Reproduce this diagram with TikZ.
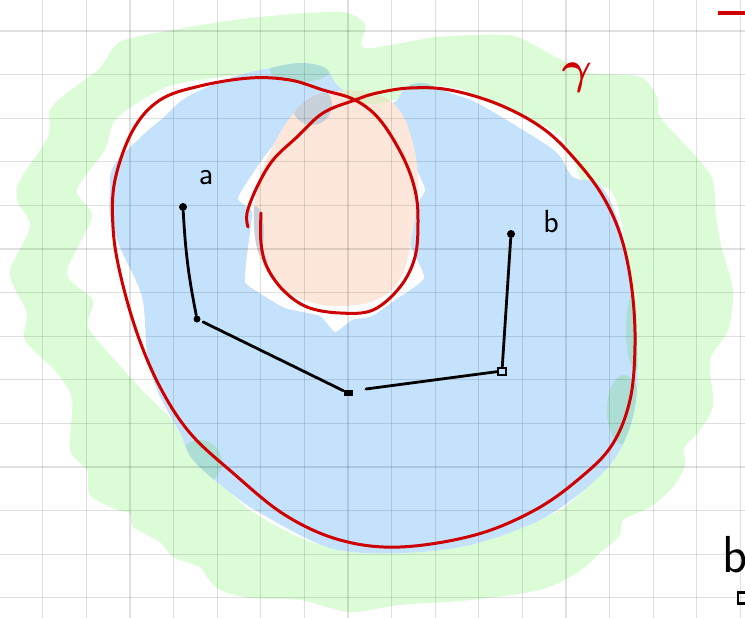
\documentclass[tikz,border=0pt]{standalone}
\usepackage{xcolor}
\usepackage{tikz}
\usetikzlibrary{calc}
\definecolor{SketchGreen}{RGB}{220,252,216}
\definecolor{SketchBlue}{RGB}{196,226,252}
\definecolor{SketchPeach}{RGB}{253,230,218}
\definecolor{SketchTeal}{RGB}{172,222,214}
\definecolor{SketchGrey}{RGB}{200,208,218}
\definecolor{SketchOlive}{RGB}{226,234,198}
\definecolor{SketchRed}{RGB}{206,0,0}
\definecolor{SketchInk}{RGB}{0,0,0}

\newcommand{\blueshape}{plot[smooth cycle, tension=0.55] coordinates {
  (110,195) (113,167) (143,135) (163,118) (187,97) (233,77) (270,68) (300,63)
  (325,68) (338,86) (362,100) (393,103) (405,88) (423,83) (450,93) (477,103)
  (523,130) (557,153) (573,177) (597,183) (613,207) (628,260) (636,320)
  (636,400) (620,450) (590,485) (540,520) (470,545) (400,553) (330,548)
  (260,513) (227,490) (193,460) (180,433) (157,390) (147,353) (142,297)
  (120,247) (110,215)}}
\newcommand{\peachshape}{plot[smooth cycle, tension=0.7] coordinates {
  (330,92) (365,92) (395,105) (412,140) (418,185) (412,235) (402,275)
  (380,298) (345,306) (310,302) (282,288) (262,262) (254,225) (258,185)
  (272,148) (292,115) (310,98)}}

\begin{document}
\begin{tikzpicture}[x=1pt, y=-1pt,
  gridline/.style={black, opacity=0.12, line width=1.2pt},
  inkline/.style={SketchInk, line width=2.8pt, line cap=round, line join=round},
  dotmark/.style={circle, fill=SketchInk, inner sep=0pt, minimum size=8pt},
  crossmark/.style={rectangle, fill=SketchInk, inner sep=0pt, minimum width=9pt, minimum height=6pt},
  boxmark/.style={rectangle, draw=SketchInk, line width=2pt, inner sep=0pt, minimum width=8pt, minimum height=7pt},
  sketchlabel/.style={font=\sffamily\fontsize{32}{34}\selectfont, inner sep=0pt},
  curvepath/.style={SketchRed, line width=3pt, line cap=round, line join=round}]
  \useasboundingbox (0,0) rectangle (745,618);
  \clip (0,0) rectangle (745,618);

  % green band, with the white gap inside it
  \fill[SketchGreen] plot[smooth cycle, tension=0.5] coordinates {
    (67,93) (100,68) (120,42) (173,30) (250,18) (340,12) (365,25) (365,48)
    (437,37) (507,35) (530,43) (567,63) (590,73) (640,77) (657,97) (660,117)
    (690,150) (712,178) (716,215) (722,250) (733,290) (728,330) (710,360)
    (713,405) (700,430) (684,448) (685,465) (673,487) (650,507) (623,520)
    (620,535) (600,553) (578,572) (540,590) (470,600) (400,605) (350,612)
    (300,600) (250,598) (220,590) (207,577) (200,567) (173,557) (160,542)
    (133,527) (130,513) (117,510) (90,495) (87,470) (70,450) (72,400)
    (57,373) (25,340) (27,313) (10,273) (30,227) (17,200) (20,180) (48,137)
    (50,110)};
  \fill[white] plot[smooth cycle, tension=0.45] coordinates {
    (117,118) (170,86) (250,74) (320,72) (345,98) (395,100) (430,86)
    (463,90) (490,103) (523,117) (557,133) (572,155) (582,180) (612,192)
    (624,240) (628,330) (620,420) (600,470) (560,510) (480,540) (400,550)
    (320,545) (250,510) (200,460) (177,425) (145,393) (115,360) (88,327)
    (93,300) (67,273) (92,217) (77,190) (105,150)};

  % blue region
  \fill[SketchBlue] \blueshape;
  \begin{scope}
    \clip \blueshape;
    \fill[SketchTeal] (300,70) ellipse (30 and 12);
    \fill[SketchTeal] (420,84) ellipse (20 and 6);
    \fill[SketchTeal] (636,330) ellipse (10 and 40);
    \fill[SketchTeal] (624,410) ellipse (17 and 35);
    \fill[SketchTeal] (200,462) ellipse (22 and 22);
  \end{scope}

  % hole with the peach region
  \fill[white] plot[smooth cycle, tension=0.3] coordinates {
    (300,108) (292,122) (262,160) (238,198) (252,212) (247,255) (245,282)
    (258,292) (285,308) (320,316) (335,332) (352,320) (372,316) (395,300)
    (424,278) (410,245) (408,218) (425,190) (412,162) (400,146) (380,128)
    (362,108) (335,98)};
  \fill[SketchPeach] \peachshape;
  \begin{scope}
    \clip \peachshape;
    \fill[SketchGrey] (312,105) circle (20);
    \fill[SketchGrey] (255,232) ellipse (9 and 26);
    \fill[SketchOlive] (372,90) ellipse (30 and 14);
  \end{scope}

  % grid
  \foreach \k in {0,...,16}
    \draw[gridline] ({42.7+43.6*\k},0) -- ({42.7+43.6*\k},618);
  \foreach \k in {0,...,13}
    \draw[gridline] (0,{31+43.6*\k}) -- (745,{31+43.6*\k});

  % the curve gamma
  \draw[curvepath] plot[smooth, tension=0.6] coordinates {
    (248,227) (247,213) (257,187) (273,160) (297,137) (323,113) (355,100)
    (377,93) (410,88) (450,90) (500,105) (545,130) (580,165) (605,200)
    (622,240) (632,290) (635,345) (630,400) (612,445) (580,478) (535,510)
    (475,535) (400,547) (340,540) (285,515) (233,473) (190,433) (160,387)
    (137,333) (120,273) (113,227) (115,180) (133,130) (160,100) (200,86)
    (250,78) (290,80) (323,90) (355,100) (380,120) (403,157) (415,190)
    (418,220) (415,257) (400,287) (373,310) (340,313) (307,307) (283,290)
    (267,267) (261,243) (261,213)};
  \draw[SketchRed, line width=4pt] (718,13) -- (750,13);

  % path from a to b
  \node[dotmark] (pa) at (183,207) {};
  \node[dotmark, minimum size=7pt] (pc) at (197,319) {};
  \node[crossmark] (px) at (348,393) {};
  \coordinate (pxr) at (366,389);
  \node[boxmark] (pq) at (502,371) {};
  \node[dotmark] (pb) at (511,234) {};
  \draw[inkline] (pa) to[bend right=4] (pc);
  \draw[inkline, shorten <=3pt] (pc) -- (px);
  \draw[inkline] (pxr) -- (pq);
  \draw[inkline] (pq) -- (pb);

  % labels
  \node[sketchlabel] (lbla) at (206,178) {a};
  \node[sketchlabel] (lblb) at (551,222) {b};
  \node[inner sep=0pt, text=SketchRed] (lblgamma) at (577,78) {\scalebox{4.6}{\boldmath$\gamma$}};
  \node[sketchlabel, font=\sffamily\fontsize{52}{54}\selectfont, anchor=base west] (lblbig) at (722,572) {b};
  \node[boxmark, line width=2.5pt, minimum width=12pt, minimum height=11pt] (sqbig) at (744,598) {};
\end{tikzpicture}
\end{document}
